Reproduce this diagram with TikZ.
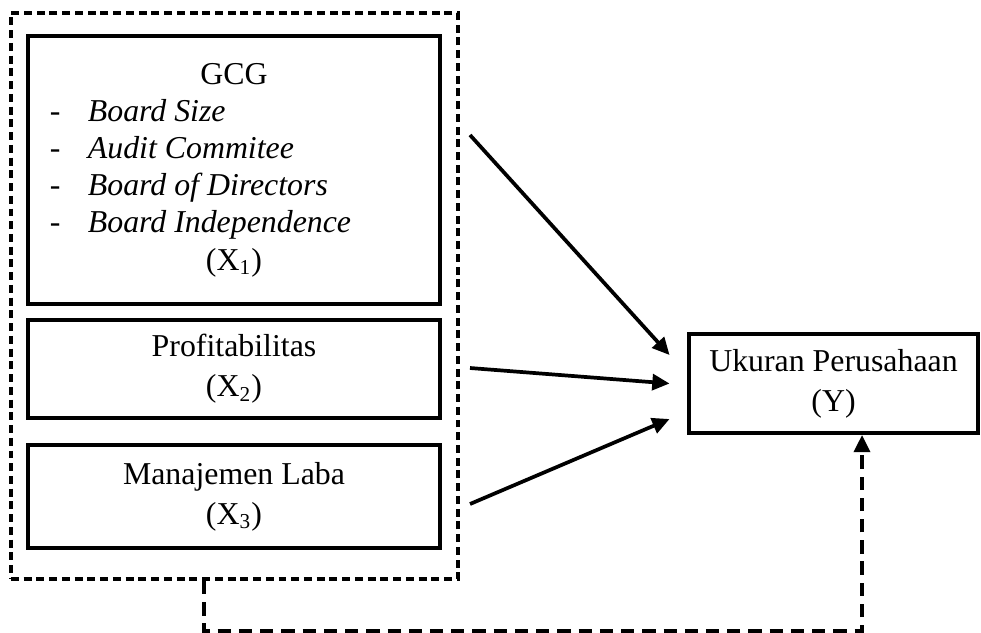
\documentclass[tikz,border=0pt]{standalone}
\usepackage{fontspec}
\setmainfont{Liberation Serif}
\usetikzlibrary{arrows.meta}

\begin{document}
\begin{tikzpicture}[x=0.01325cm, y=-0.01325cm, font=\fontsize{12}{15}\selectfont,
  var box/.style={draw, line width=1.5pt, align=center, inner sep=0pt},
  group box/.style={draw, line width=1.4pt, dash pattern=on 3pt off 1.8pt},
  effect/.style={-{Triangle[length=6.5pt,width=6pt]}, line width=1.4pt},
  feedback/.style={effect, dash pattern=on 5pt off 3pt}]

\useasboundingbox (0,0) rectangle (981,632);

\node[group box, minimum width=5.92cm, minimum height=7.50cm] (outer) at (234.5,296) {};

\node[var box, minimum width=5.46cm, minimum height=3.54cm,
      font=\fontsize{12}{14}\selectfont] (gcg) at (234,170)
  {GCG\\
   \makebox[138.7pt][l]{\makebox[14.3pt][l]{-}\textit{Board Size}}\\
   \makebox[138.7pt][l]{\makebox[14.3pt][l]{-}\textit{Audit Commitee}}\\
   \makebox[138.7pt][l]{\makebox[14.3pt][l]{-}\textit{Board of Directors}}\\
   \makebox[138.7pt][l]{\makebox[14.3pt][l]{-}\textit{Board Independence}}\\
   (X\textsubscript{1})};
\node[var box, minimum width=5.46cm, minimum height=1.30cm] (profit) at (234,369)
  {Profitabilitas\\(X\textsubscript{2})};
\node[var box, minimum width=5.46cm, minimum height=1.36cm] (laba) at (234,496.5)
  {Manajemen Laba\\(X\textsubscript{3})};

\node[var box, minimum width=3.84cm, minimum height=1.31cm] (uk) at (833.5,383.5)
  {Ukuran Perusahaan\\(Y)};

\coordinate (p1) at (470,135);
\coordinate (p2) at (470,368);
\coordinate (p3) at (470,504);

\draw[effect] (p1) -- ([shift={(-17,-28.5)}]uk.west);
\draw[effect] (p2) -- ([shift={(-17,0)}]uk.west);
\draw[effect] (p3) -- ([shift={(-17,35.5)}]uk.west);

\coordinate (fb1) at (204,631);
\coordinate (fb2) at (862,631);
\draw[feedback] (outer.south -| fb1) -- (fb1) -- (fb2) -- (uk.south -| fb2);

\end{tikzpicture}
\end{document}
